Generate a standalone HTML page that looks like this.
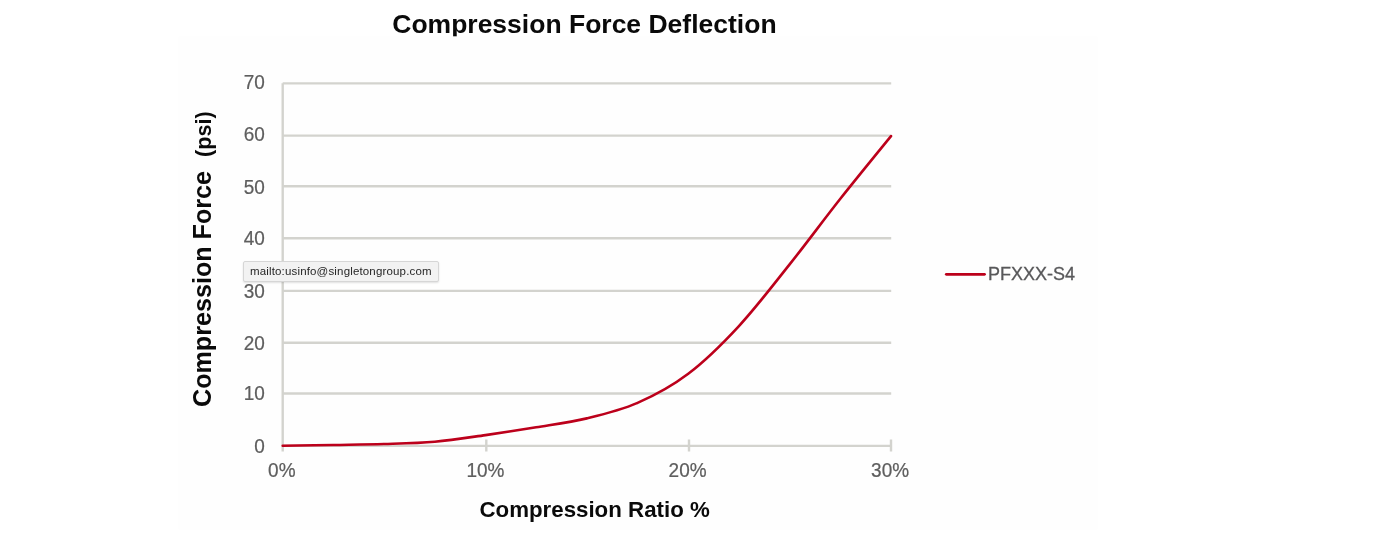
<!DOCTYPE html>
<html><head><meta charset="utf-8">
<style>
html,body{margin:0;padding:0;background:#fff;width:1384px;height:558px;overflow:hidden;}
svg{display:block;position:absolute;left:0;top:0;will-change:transform;}
text{font-family:"Liberation Sans",sans-serif;}
.tip{position:absolute;left:242.7px;top:261.3px;width:196.8px;height:20.4px;background:#f2f2f2;border:1px solid #d6d6d6;box-shadow:0 1px 2px rgba(0,0,0,0.12);font-family:"Liberation Sans",sans-serif;font-size:11.5px;letter-spacing:0.16px;color:#262626;line-height:18.2px;box-sizing:border-box;padding-left:6.3px;border-radius:2px;white-space:nowrap;}
</style></head><body>
<svg width="1384" height="558" viewBox="0 0 1384 558">
<text transform="translate(584.4,33.4) scale(1,1.0)" font-size="26.5" text-anchor="middle" font-weight="bold" fill="#0a0a0a">Compression Force Deflection</text>
<rect x="178.5" y="36.3" width="919.1" height="493.5" fill="#fefefe"/>
<g stroke="#d3d3ce" stroke-width="2.4" fill="none">
<line x1="282.7" y1="83.4" x2="891.2" y2="83.4"/>
<line x1="282.7" y1="135.6" x2="891.2" y2="135.6"/>
<line x1="282.7" y1="186.2" x2="891.2" y2="186.2"/>
<line x1="282.7" y1="238.2" x2="891.2" y2="238.2"/>
<line x1="282.7" y1="290.9" x2="891.2" y2="290.9"/>
<line x1="282.7" y1="342.8" x2="891.2" y2="342.8"/>
<line x1="282.7" y1="393.5" x2="891.2" y2="393.5"/>
<line x1="282.7" y1="445.9" x2="891.2" y2="445.9"/>
<line x1="282.7" y1="83.3" x2="282.7" y2="451.5"/>
<line x1="486.3" y1="439.5" x2="486.3" y2="451.5"/>
<line x1="689" y1="439.5" x2="689" y2="451.5"/>
<line x1="891" y1="439.5" x2="891" y2="451.5"/>
</g>
<g fill="#5e5e5e" stroke="#5e5e5e" stroke-width="0.22">
<text transform="translate(264.8,89.25) scale(1,1.1)" font-size="19" text-anchor="end" >70</text>
<text transform="translate(264.8,141.3) scale(1,1.1)" font-size="19" text-anchor="end" >60</text>
<text transform="translate(264.8,194.05) scale(1,1.1)" font-size="19" text-anchor="end" >50</text>
<text transform="translate(264.8,245.15) scale(1,1.1)" font-size="19" text-anchor="end" >40</text>
<text transform="translate(264.8,297.55) scale(1,1.1)" font-size="19" text-anchor="end" >30</text>
<text transform="translate(264.8,349.65) scale(1,1.1)" font-size="19" text-anchor="end" >20</text>
<text transform="translate(264.8,400.45) scale(1,1.1)" font-size="19" text-anchor="end" >10</text>
<text transform="translate(264.8,452.6) scale(1,1.1)" font-size="19" text-anchor="end" >0</text>
<text transform="translate(281.8,476.8) scale(1,1.1)" font-size="19" text-anchor="middle" >0%</text>
<text transform="translate(485.4,476.8) scale(1,1.1)" font-size="19" text-anchor="middle" >10%</text>
<text transform="translate(687.6,476.8) scale(1,1.1)" font-size="19" text-anchor="middle" >20%</text>
<text transform="translate(890.1,476.8) scale(1,1.1)" font-size="19" text-anchor="middle" >30%</text>
</g>
<text transform="translate(594.6,516.8) scale(1,1.03)" font-size="22.3" text-anchor="middle" font-weight="bold" fill="#0a0a0a">Compression Ratio %</text>
<text style="white-space:pre" transform="translate(210.9,405.8) rotate(-90) scale(1,1.03)" font-size="25.15" font-weight="bold" fill="#0a0a0a"><tspan dx="-1.2">Compression Force  </tspan><tspan font-size="21.6" dx="0">(psi)</tspan></text>
<path d="M282.70,445.80 C291.15,445.66 316.50,445.25 333.39,444.95 C350.29,444.65 367.19,444.54 384.08,444.00 C400.98,443.46 417.88,443.17 434.78,441.69 C451.68,440.20 468.57,437.48 485.47,435.09 C502.37,432.70 519.26,430.13 536.16,427.34 C553.06,424.56 569.96,422.45 586.86,418.38 C603.75,414.30 620.65,410.32 637.55,402.88 C654.45,395.44 671.34,386.55 688.24,373.74 C705.14,360.93 722.03,344.27 738.93,326.04 C755.83,307.82 772.73,285.60 789.62,264.39 C806.52,243.17 823.42,220.15 840.32,198.77 C857.22,177.39 882.56,146.54 891.01,136.10" stroke="#bc001b" stroke-width="2.6" fill="none" stroke-linecap="round" stroke-linejoin="round"/>
<line x1="946.3" y1="274.3" x2="984.5" y2="274.3" stroke="#bc001b" stroke-width="2.8" stroke-linecap="round"/>
<text transform="translate(988,280.1) scale(1,1.03)" font-size="18" text-anchor="start" fill="#58585a" stroke="#58585a" stroke-width="0.3">PFXXX-S4</text>
</svg>
<div class="tip">mailto:usinfo@singletongroup.com</div>
</body></html>
